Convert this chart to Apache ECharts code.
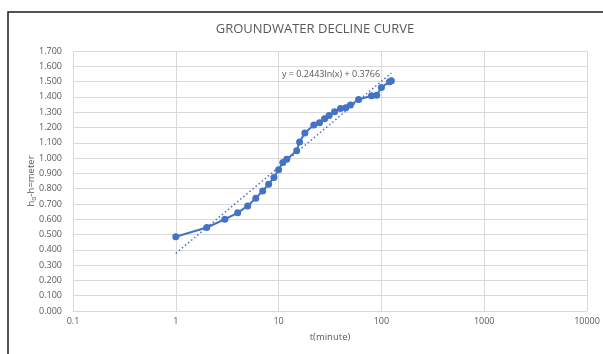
<!DOCTYPE html>
<html>
<head>
<meta charset="utf-8">
<script src="https://cdn.jsdelivr.net/npm/echarts@6/dist/echarts.min.js"></script>
<style>
  html, body { margin: 0; padding: 0; background: #fff; }
  #main { width: 603px; height: 354px; }
</style>
</head>
<body>
<div id="main"></div>
<script>
// time (minute) and drawdown
const tMinute = [1, 2, 3, 4, 5, 6, 7, 8, 9, 10, 11, 12, 15, 16, 18, 22, 25, 28, 31, 35, 40, 45, 50, 60, 80, 90, 100, 120, 125]
const drawdown = [0.485, 0.546, 0.600, 0.642, 0.687, 0.738, 0.785, 0.829, 0.873, 0.924, 0.971, 0.992, 1.048, 1.105, 1.164, 1.216, 1.231, 1.257, 1.279, 1.303, 1.324, 1.329, 1.347, 1.383, 1.407, 1.410, 1.462, 1.499, 1.506]
// log trendline end points (y = 0.2443ln(x) + 0.3766)
const trendX = [1, 125]
const trendY = [0.377, 1.556]
const xTicks = [0.1, 1, 10, 100, 1000, 10000]

const blue = '#4472c4'
const grey = '#595959'
const gridColor = '#d9d9d9'

var myChart = echarts.init(document.getElementById('main'))

var option = {
  animation: false,
  title: {
    text: 'GROUNDWATER DECLINE CURVE',
    left: 310,
    textAlign: 'center',
    top: 18,
    textStyle: { fontFamily: 'Open Sans', fontSize: 13, fontWeight: 'normal', color: grey }
  },
  grid: { left: 73, right: 16, top: 51, bottom: 43 },
  xAxis: {
    type: 'log',
    logBase: 10,
    min: xTicks[0],
    max: xTicks[xTicks.length - 1],
    name: 't(minute)',
    nameLocation: 'middle',
    nameGap: 21,
    nameTextStyle: { fontFamily: 'Open Sans', fontSize: 9.5, color: grey },
    axisLine: { lineStyle: { color: gridColor } },
    axisTick: { show: false },
    splitLine: { show: true, lineStyle: { color: gridColor } },
    axisLabel: {
      fontFamily: 'Open Sans', fontSize: 9, color: grey, margin: 6,
      formatter: function (v) { return String(v) }
    }
  },
  yAxis: {
    type: 'value',
    min: 0,
    max: 1.7,
    interval: 0.1,
    name: '{a|h}{b|o}{a|-h=meter}',
    nameLocation: 'middle',
    nameGap: 36,
    nameMoveOverlap: false,
    nameRotate: 90,
    nameTextStyle: {
      rich: {
        a: { fontFamily: 'Open Sans', fontSize: 9.5, color: grey },
        b: { fontFamily: 'Open Sans', fontSize: 7, color: grey, verticalAlign: 'bottom', padding: [4, 0, 0, 0] }
      }
    },
    axisLine: { show: false },
    axisTick: { show: false },
    splitLine: { lineStyle: { color: gridColor } },
    axisLabel: {
      fontFamily: 'Open Sans', fontSize: 9, color: grey, margin: 11,
      formatter: function (v) { return v.toFixed(3) }
    }
  },
  graphic: [
    {
      type: 'polyline',
      shape: { points: [[8, 354], [8, 12], [603, 12]] },
      style: { stroke: '#1a1a1a', lineWidth: 1.5, fill: null }
    },
    {
      type: 'text',
      left: 282,
      top: 70,
      style: { text: 'y = 0.2443ln(x) + 0.3766', fontFamily: 'Open Sans', fontSize: 9, fill: grey }
    }
  ],
  series: [
    {
      name: 'trend',
      type: 'line',
      data: trendX.map(function (x, i) { return [x, trendY[i]] }),
      symbol: 'none',
      lineStyle: { color: blue, width: 1.5, type: [1.5, 2.5] },
      z: 2
    },
    {
      name: 'drawdown',
      type: 'line',
      data: tMinute.map(function (t, i) { return [t, drawdown[i]] }),
      symbol: 'circle',
      symbolSize: 7,
      itemStyle: { color: blue },
      lineStyle: { color: blue, width: 2 },
      z: 3
    }
  ]
}

myChart.setOption(option)
</script>
</body>
</html>
